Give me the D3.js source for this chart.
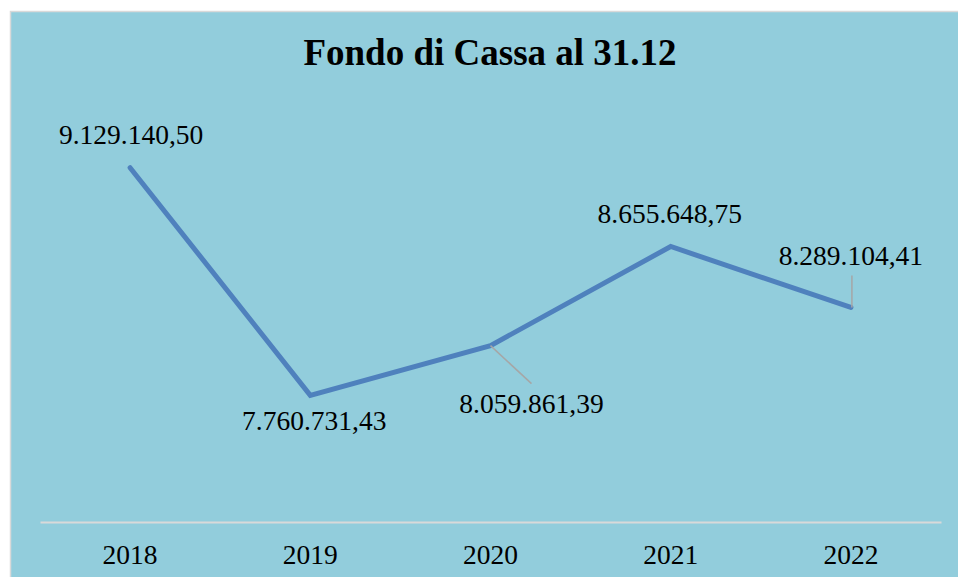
<!DOCTYPE html>
<html>
<head>
<meta charset="utf-8">
<script src="https://cdn.jsdelivr.net/npm/d3@7"></script>
<style>
  html, body { margin: 0; padding: 0; background: #fff; }
  svg { display: block; }
  text { font-family: "Liberation Serif", "Times New Roman", serif; fill: #000; }
</style>
</head>
<body>
<div id="chart"></div>
<script>
const years = ["2018", "2019", "2020", "2021", "2022"];
const fondoCassa = [9129140.50, 7760731.43, 8059861.39, 8655648.75, 8289104.41];
const valueLabels = ["9.129.140,50", "7.760.731,43", "8.059.861,39", "8.655.648,75", "8.289.104,41"];
const title = "Fondo di Cassa al 31.12";

// label placement relative to each point (dx, dy of baseline, leader line?)
const labelOffsets = [
  { dx: 1, dy: -24, leader: false },
  { dx: 4, dy: 35, leader: false },
  { dx: 41, dy: 67, leader: true },
  { dx: -1, dy: -24, leader: false },
  { dx: 0, dy: -42, leader: true }
];

const width = 958, height = 577;
const margin = { top: 106, right: 17, bottom: 55, left: 40 };

const svg = d3.select("#chart")
  .append("svg")
  .attr("width", width)
  .attr("height", height);

// chart area background
svg.append("rect")
  .attr("x", 10.5)
  .attr("y", 11.5)
  .attr("width", 970)
  .attr("height", 600)
  .attr("fill", "#92CDDC")
  .attr("stroke", "#D9D9D9")
  .attr("stroke-width", 1.5);

const x = d3.scaleBand()
  .domain(years)
  .range([margin.left, width - margin.right]);

const y = d3.scaleLinear()
  .domain([7000000, 9500000])
  .range([height - margin.bottom, margin.top]);

const cx = d => x(d) + x.bandwidth() / 2;

// x axis
const xAxis = svg.append("g")
  .attr("transform", `translate(0,${y(7000000)})`)
  .call(d3.axisBottom(x).tickSize(0).tickPadding(22));
xAxis.select(".domain")
  .attr("stroke", "#D9D9D9")
  .attr("stroke-width", 2);
xAxis.selectAll("text")
  .attr("font-size", "27.5px")
  .attr("font-family", "Liberation Serif, Times New Roman, serif")
  .attr("fill", "#000");

// title
svg.append("text")
  .attr("x", 490)
  .attr("y", 65)
  .attr("text-anchor", "middle")
  .attr("font-size", "37px")
  .attr("font-weight", "bold")
  .text(title);

const line = d3.line()
  .x((d, i) => cx(years[i]))
  .y(d => y(d));

svg.append("path")
  .datum(fondoCassa)
  .attr("fill", "none")
  .attr("stroke", "#4F81BD")
  .attr("stroke-width", 5)
  .attr("stroke-linecap", "round")
  .attr("stroke-linejoin", "miter")
  .attr("d", line);

// leader lines
fondoCassa.forEach((v, i) => {
  const o = labelOffsets[i];
  if (!o.leader) return;
  const px = cx(years[i]), py = y(v);
  const ty = o.dy > 0 ? py + o.dy - 29 : py + o.dy + 10;
  svg.append("line")
    .attr("x1", px + (o.dx === 0 ? 1 : 0))
    .attr("y1", py)
    .attr("x2", px + o.dx + (o.dx === 0 ? 1 : 0))
    .attr("y2", ty)
    .attr("stroke", "#A6A6A6")
    .attr("stroke-width", 1.5);
});

// value labels
svg.selectAll(".vlabel")
  .data(fondoCassa)
  .join("text")
  .attr("class", "vlabel")
  .attr("x", (d, i) => cx(years[i]) + labelOffsets[i].dx)
  .attr("y", (d, i) => y(d) + labelOffsets[i].dy)
  .attr("text-anchor", "middle")
  .attr("font-size", "27.5px")
  .text((d, i) => valueLabels[i]);
</script>
</body>
</html>
